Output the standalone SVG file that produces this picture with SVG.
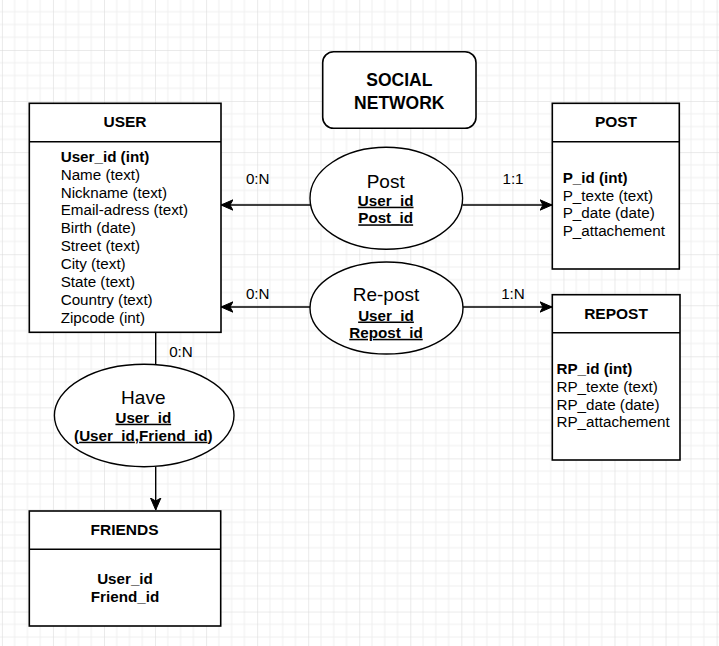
<svg xmlns="http://www.w3.org/2000/svg" width="719" height="646" viewBox="0 0 719 646">
<defs>
<pattern id="grid" patternUnits="userSpaceOnUse" x="1.9" y="-1.05" width="51.05" height="51.05">
<path d="M12.76 0V51.05M25.53 0V51.05M38.29 0V51.05M0 12.76H51.05M0 25.53H51.05M0 38.29H51.05" stroke="#efefef" stroke-width="1" fill="none"/>
<path d="M0 0V51.05M0 0H51.05" stroke="#d6d6d6" stroke-width="1" fill="none"/>
</pattern>
<marker id="arr" markerUnits="userSpaceOnUse" markerWidth="14" markerHeight="12" viewBox="0 0 14 12" refX="12" refY="6" orient="auto">
<path d="M0,0.8 L12,6 L0,11.2 L3,6 Z" fill="#000" stroke="#000" stroke-width="1"/>
</marker>
</defs>
<style>
.box{fill:#fff;stroke:#000;stroke-width:1.6}
.ell{fill:#fff;stroke:#000;stroke-width:1.4}
.ln{stroke:#000;stroke-width:1.4;fill:none}
text{font-family:"Liberation Sans",Arial,sans-serif;fill:#000}
.t{font-size:15.5px;font-weight:bold}
.sn{font-size:17.5px;font-weight:bold}
.b{font-size:15.2px}
.bb{font-size:15.2px;font-weight:bold}
.big{font-size:19px}
.u{text-decoration:underline}
.c{text-anchor:middle}
</style>
<rect width="719" height="646" fill="#fff"/>
<rect width="719" height="646" fill="url(#grid)"/>

<g id="connectors">
<line class="ln" x1="310" y1="205" x2="221" y2="205" marker-end="url(#arr)"/>
<line class="ln" x1="462.5" y1="205" x2="552" y2="205" marker-end="url(#arr)"/>
<line class="ln" x1="310" y1="307" x2="221" y2="307" marker-end="url(#arr)"/>
<line class="ln" x1="463" y1="307" x2="552" y2="307" marker-end="url(#arr)"/>
<line class="ln" x1="155.7" y1="332" x2="155.7" y2="365"/>
<line class="ln" x1="155.7" y1="466.5" x2="155.7" y2="510" marker-end="url(#arr)"/>
<text class="b c" x="257.7" y="183.5">0:N</text>
<text class="b c" x="513" y="183.5">1:1</text>
<text class="b c" x="257.7" y="298.5">0:N</text>
<text class="b c" x="513" y="298.5">1:N</text>
<text class="b c" x="181" y="356.5">0:N</text>
</g>

<g id="social-network">
<rect class="box" x="322.7" y="51.7" width="153.3" height="76.6" rx="11" ry="11"/>
<text class="sn c" x="399.3" y="86">SOCIAL</text>
<text class="sn c" x="399.3" y="108.5">NETWORK</text>
</g>

<g id="user">
<rect class="box" x="29.3" y="103.3" width="191.7" height="229"/>
<line class="ln" x1="29.3" y1="141.7" x2="221" y2="141.7" stroke-width="1.6"/>
<text class="t c" x="125" y="127">USER</text>
<text class="bb" x="60.7" y="161.7">User_id (int)</text>
<text class="b" x="60.7" y="179.6">Name (text)</text>
<text class="b" x="60.7" y="197.5">Nickname (text)</text>
<text class="b" x="60.7" y="215.4">Email-adress (text)</text>
<text class="b" x="60.7" y="233.3">Birth (date)</text>
<text class="b" x="60.7" y="251.2">Street (text)</text>
<text class="b" x="60.7" y="269.1">City (text)</text>
<text class="b" x="60.7" y="287">State (text)</text>
<text class="b" x="60.7" y="304.9">Country (text)</text>
<text class="b" x="60.7" y="322.8">Zipcode (int)</text>
</g>

<g id="post-rel">
<ellipse class="ell" cx="386.3" cy="198.3" rx="76.3" ry="51"/>
<text class="big c" x="385.7" y="188.3">Post</text>
<text class="bb c u" x="385.7" y="205.7">User_id</text>
<text class="bb c u" x="385.7" y="223.3">Post_id</text>
</g>

<g id="repost-rel">
<ellipse class="ell" cx="386.5" cy="308" rx="76.5" ry="46"/>
<text class="big c" x="386" y="301.2">Re-post</text>
<text class="bb c u" x="386" y="320.5">User_id</text>
<text class="bb c u" x="386" y="337.8">Repost_id</text>
</g>

<g id="post">
<rect class="box" x="552.3" y="103.3" width="127" height="165.7"/>
<line class="ln" x1="552.3" y1="141.7" x2="679.3" y2="141.7" stroke-width="1.6"/>
<text class="t c" x="616" y="127">POST</text>
<text class="bb" x="562.7" y="182.7">P_id (int)</text>
<text class="b" x="562.7" y="200.5">P_texte (text)</text>
<text class="b" x="562.7" y="218.3">P_date (date)</text>
<text class="b" x="562.7" y="236.1">P_attachement</text>
</g>

<g id="repost">
<rect class="box" x="552.3" y="294.7" width="127.7" height="165.3"/>
<line class="ln" x1="552.3" y1="332.7" x2="680" y2="332.7" stroke-width="1.6"/>
<text class="t c" x="616" y="319">REPOST</text>
<text class="bb" x="556.5" y="374.3">RP_id (int)</text>
<text class="b" x="556.5" y="392">RP_texte (text)</text>
<text class="b" x="556.5" y="409.7">RP_date (date)</text>
<text class="b" x="556.5" y="427.4">RP_attachement</text>
</g>

<g id="have-rel">
<ellipse class="ell" cx="144.2" cy="415.5" rx="89.8" ry="51.2"/>
<text class="big c" x="143.3" y="404">Have</text>
<text class="bb c u" x="143.3" y="422.7">User_id</text>
<text class="bb c" x="143.3" y="440.7">(<tspan class="u">User_id</tspan>,<tspan class="u">Friend_id</tspan>)</text>
</g>

<g id="friends">
<rect class="box" x="29.3" y="511" width="191.4" height="115"/>
<line class="ln" x1="29.3" y1="549.3" x2="220.7" y2="549.3" stroke-width="1.6"/>
<text class="t c" x="124.5" y="534.5">FRIENDS</text>
<text class="bb c" x="125" y="584">User_id</text>
<text class="bb c" x="125" y="601.7">Friend_id</text>
</g>
</svg>
